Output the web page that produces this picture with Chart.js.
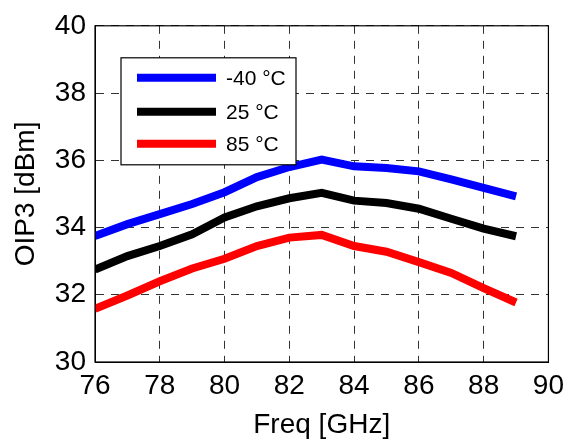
<!DOCTYPE html>
<html>
<head>
<meta charset="utf-8">
<script src="https://cdn.jsdelivr.net/npm/chart.js@4.4.0/dist/chart.umd.min.js"></script>
<style>
html,body{margin:0;padding:0;background:#fff;}
#wrap{width:571px;height:442px;position:relative;}
</style>
</head>
<body>
<div id="wrap"><canvas id="c" width="571" height="442"></canvas></div>
<script>
const freq = [76,77,78,79,80,81,82,83,84,85,86,87,88,89];
const tMinus40 = [33.75,34.1,34.4,34.7,35.05,35.5,35.8,36.02,35.82,35.77,35.67,35.43,35.18,34.93];
const t25 = [32.75,33.15,33.45,33.8,34.3,34.63,34.87,35.03,34.8,34.73,34.56,34.26,33.97,33.74];
const t85 = [31.58,31.98,32.4,32.78,33.07,33.45,33.7,33.78,33.45,33.28,32.97,32.65,32.2,31.77];
const seriesLabels = ['-40 °C','25 °C','85 °C'];
const xTicks = [76,78,80,82,84,86,88,90];
const yTicks = [30,32,34,36,38,40];

const FONT = "'Liberation Sans', Arial, sans-serif";
const toPts = arr => arr.map((v,i)=>({x:freq[i], y:v}));

const boxPlugin = {
  id:'boxPlugin',
  afterDraw(chart){
    const {ctx, chartArea:a} = chart;
    ctx.save();
    ctx.strokeStyle='#000'; ctx.lineWidth=1.2;
    ctx.strokeRect(a.left, a.top, a.right-a.left, a.bottom-a.top);
    // legend
    const lx = a.left + 26, ly = a.top + 32, lw = 175, lh = 107;
    ctx.fillStyle='#fff';
    ctx.fillRect(lx, ly, lw, lh);
    ctx.strokeStyle='#000'; ctx.lineWidth=1.2;
    ctx.strokeRect(lx, ly, lw, lh);
    const rows = [20, 54, 86];
    chart.data.datasets.forEach((ds,i)=>{
      const y = ly + rows[i];
      ctx.strokeStyle = ds.borderColor; ctx.lineWidth = 8; ctx.lineCap='butt';
      ctx.beginPath(); ctx.moveTo(lx+16, y); ctx.lineTo(lx+95, y); ctx.stroke();
      ctx.fillStyle='#000'; ctx.font = '21px ' + FONT;
      ctx.textBaseline='middle'; ctx.textAlign='left';
      ctx.fillText(ds.label, lx+105, y+1);
    });
    ctx.restore();
  }
};

new Chart(document.getElementById('c'), {
  type:'line',
  data:{
    datasets:[
      {label:seriesLabels[0], data:toPts(tMinus40), borderColor:'#0000ff'},
      {label:seriesLabels[1], data:toPts(t25), borderColor:'#000000'},
      {label:seriesLabels[2], data:toPts(t85), borderColor:'#ff0000'}
    ].map(d=>Object.assign(d,{borderWidth:8, pointRadius:0, tension:0, fill:false, borderJoinStyle:'miter'}))
  },
  options:{
    responsive:false,
    animation:false,
    layout:{padding:{left:0, top:20, right:18, bottom:0}},
    plugins:{legend:{display:false}, tooltip:{enabled:false}},
    scales:{
      x:{
        type:'linear', min:76, max:90,
        afterBuildTicks(s){ s.ticks = xTicks.map(v=>({value:v})); },
        afterFit(s){ s.height = 80; },
        grid:{color:'#333', lineWidth:1, drawTicks:false},
        border:{display:true, color:'#000', dash:[8,7], width:1},
        ticks:{color:'#000', font:{family:FONT, size:28}, padding:7, maxRotation:0, autoSkip:false},
        title:{display:true, text:'Freq [GHz]', color:'#000', font:{family:FONT, size:28, lineHeight:1}, padding:{top:0,bottom:3}}
      },
      y:{
        type:'linear', min:30, max:40,
        afterBuildTicks(s){ s.ticks = yTicks.map(v=>({value:v})); },
        afterFit(s){ s.width = 95; },
        grid:{color:'#333', lineWidth:1, drawTicks:false},
        border:{display:true, color:'#000', dash:[8,7], width:1},
        ticks:{color:'#000', font:{family:FONT, size:28}, padding:9, autoSkip:false},
        title:{display:true, text:'OIP3 [dBm]', color:'#000', font:{family:FONT, size:28, lineHeight:1}, padding:{top:12,bottom:0}}
      }
    }
  },
  plugins:[boxPlugin]
});
</script>
</body>
</html>
